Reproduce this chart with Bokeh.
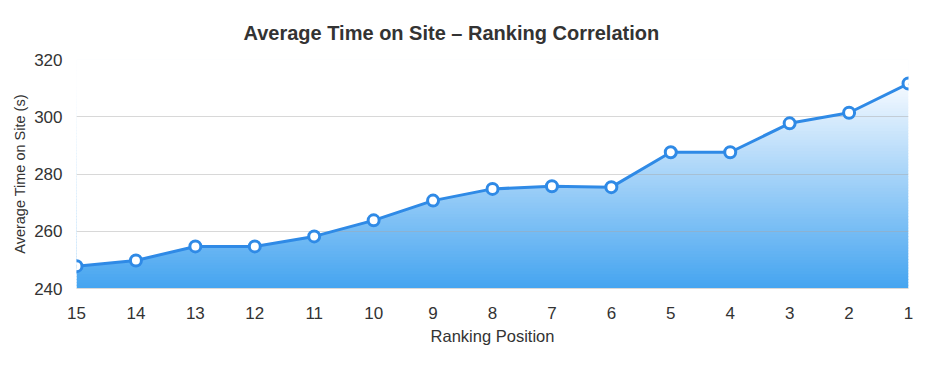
import numpy as np
from bokeh.plotting import figure
from bokeh.models import Range1d, FixedTicker
from bokeh.embed import file_html
from bokeh.resources import INLINE

# ---- data ----
positions = [15, 14, 13, 12, 11, 10, 9, 8, 7, 6, 5, 4, 3, 2, 1]
avg_time = [247.8, 249.8, 254.7, 254.7, 258.2, 263.8, 270.7, 274.8,
            275.7, 275.4, 287.6, 287.6, 297.7, 301.4, 311.6]
y_ticks = [240, 260, 280, 300, 320]
x_ticks = positions

FONT = "Liberation Sans"
LINE_BLUE = "#2f8ae6"

p = figure(frame_width=832, frame_height=229,
           x_range=Range1d(15, 1), y_range=Range1d(240, 320),
           output_backend="svg", toolbar_location=None,
           min_border_left=76, min_border_right=16,
           min_border_top=59, min_border_bottom=58,
           title="Average Time on Site \u2013 Ranking Correlation")

p.background_fill_color = "white"
p.border_fill_color = "white"
p.outline_line_color = None

# ---- gradient fill under the line ----
top_val = max(avg_time)
levels = np.arange(y_ticks[0], y_ticks[-1], 1.0)
c_bot = np.array([68, 164, 240])
c_top = np.array([246, 250, 255])
cols = []
for lv in levels:
    t = min(max((lv + 0.5 - y_ticks[0]) / (top_val - y_ticks[0]), 0.0), 1.0)
    c = c_bot + (c_top - c_bot) * t
    cols.append("#%02x%02x%02x" % tuple(int(round(v)) for v in c))
band = p.quad(left=positions[0], right=positions[-1], bottom=levels,
              top=levels + 1.3, fill_color=cols, line_color=None)
band.level = "image"
cover = p.varea(x=positions, y1=avg_time, y2=y_ticks[-1] + 1,
                fill_color="white")
cover.level = "image"

# ---- line + markers ----
p.line(positions, avg_time, line_color=LINE_BLUE, line_width=3)
p.scatter(positions, avg_time, size=11, fill_color="white",
          line_color=LINE_BLUE, line_width=3)

# ---- grid ----
p.xgrid.visible = False
p.ygrid.grid_line_color = "#a8a8a8"
p.ygrid.grid_line_alpha = 0.45
p.ygrid.ticker = FixedTicker(ticks=y_ticks)

# ---- axes ----
p.xaxis.ticker = FixedTicker(ticks=x_ticks)
p.yaxis.ticker = FixedTicker(ticks=y_ticks)
for ax in (p.xaxis[0], p.yaxis[0]):
    ax.major_tick_line_color = None
    ax.minor_tick_line_color = None
    ax.major_label_text_font = FONT
    ax.major_label_text_font_size = "17px"
    ax.major_label_text_color = "#333333"
    ax.axis_label_text_font = FONT
    ax.axis_label_text_font_style = "normal"
    ax.axis_label_text_color = "#333333"
p.yaxis.axis_line_color = None
p.xaxis.axis_line_color = "#d8d8d8"
p.xaxis.major_label_standoff = 12
p.yaxis.major_label_standoff = 8
p.xaxis.axis_label = "Ranking Position"
p.xaxis.axis_label_text_font_size = "16.5px"
p.xaxis.axis_label_standoff = 5
p.yaxis.axis_label = "Average Time on Site (s)"
p.yaxis.axis_label_text_font_size = "14.5px"
p.yaxis.axis_label_standoff = 3

# ---- title ----
p.title.text_font = FONT
p.title.text_font_size = "20px"
p.title.text_font_style = "bold"
p.title.text_color = "#333333"
p.title.align = "left"
p.title.offset = 167
p.title.standoff = 32

open("out.html", "w").write(file_html(p, INLINE))
